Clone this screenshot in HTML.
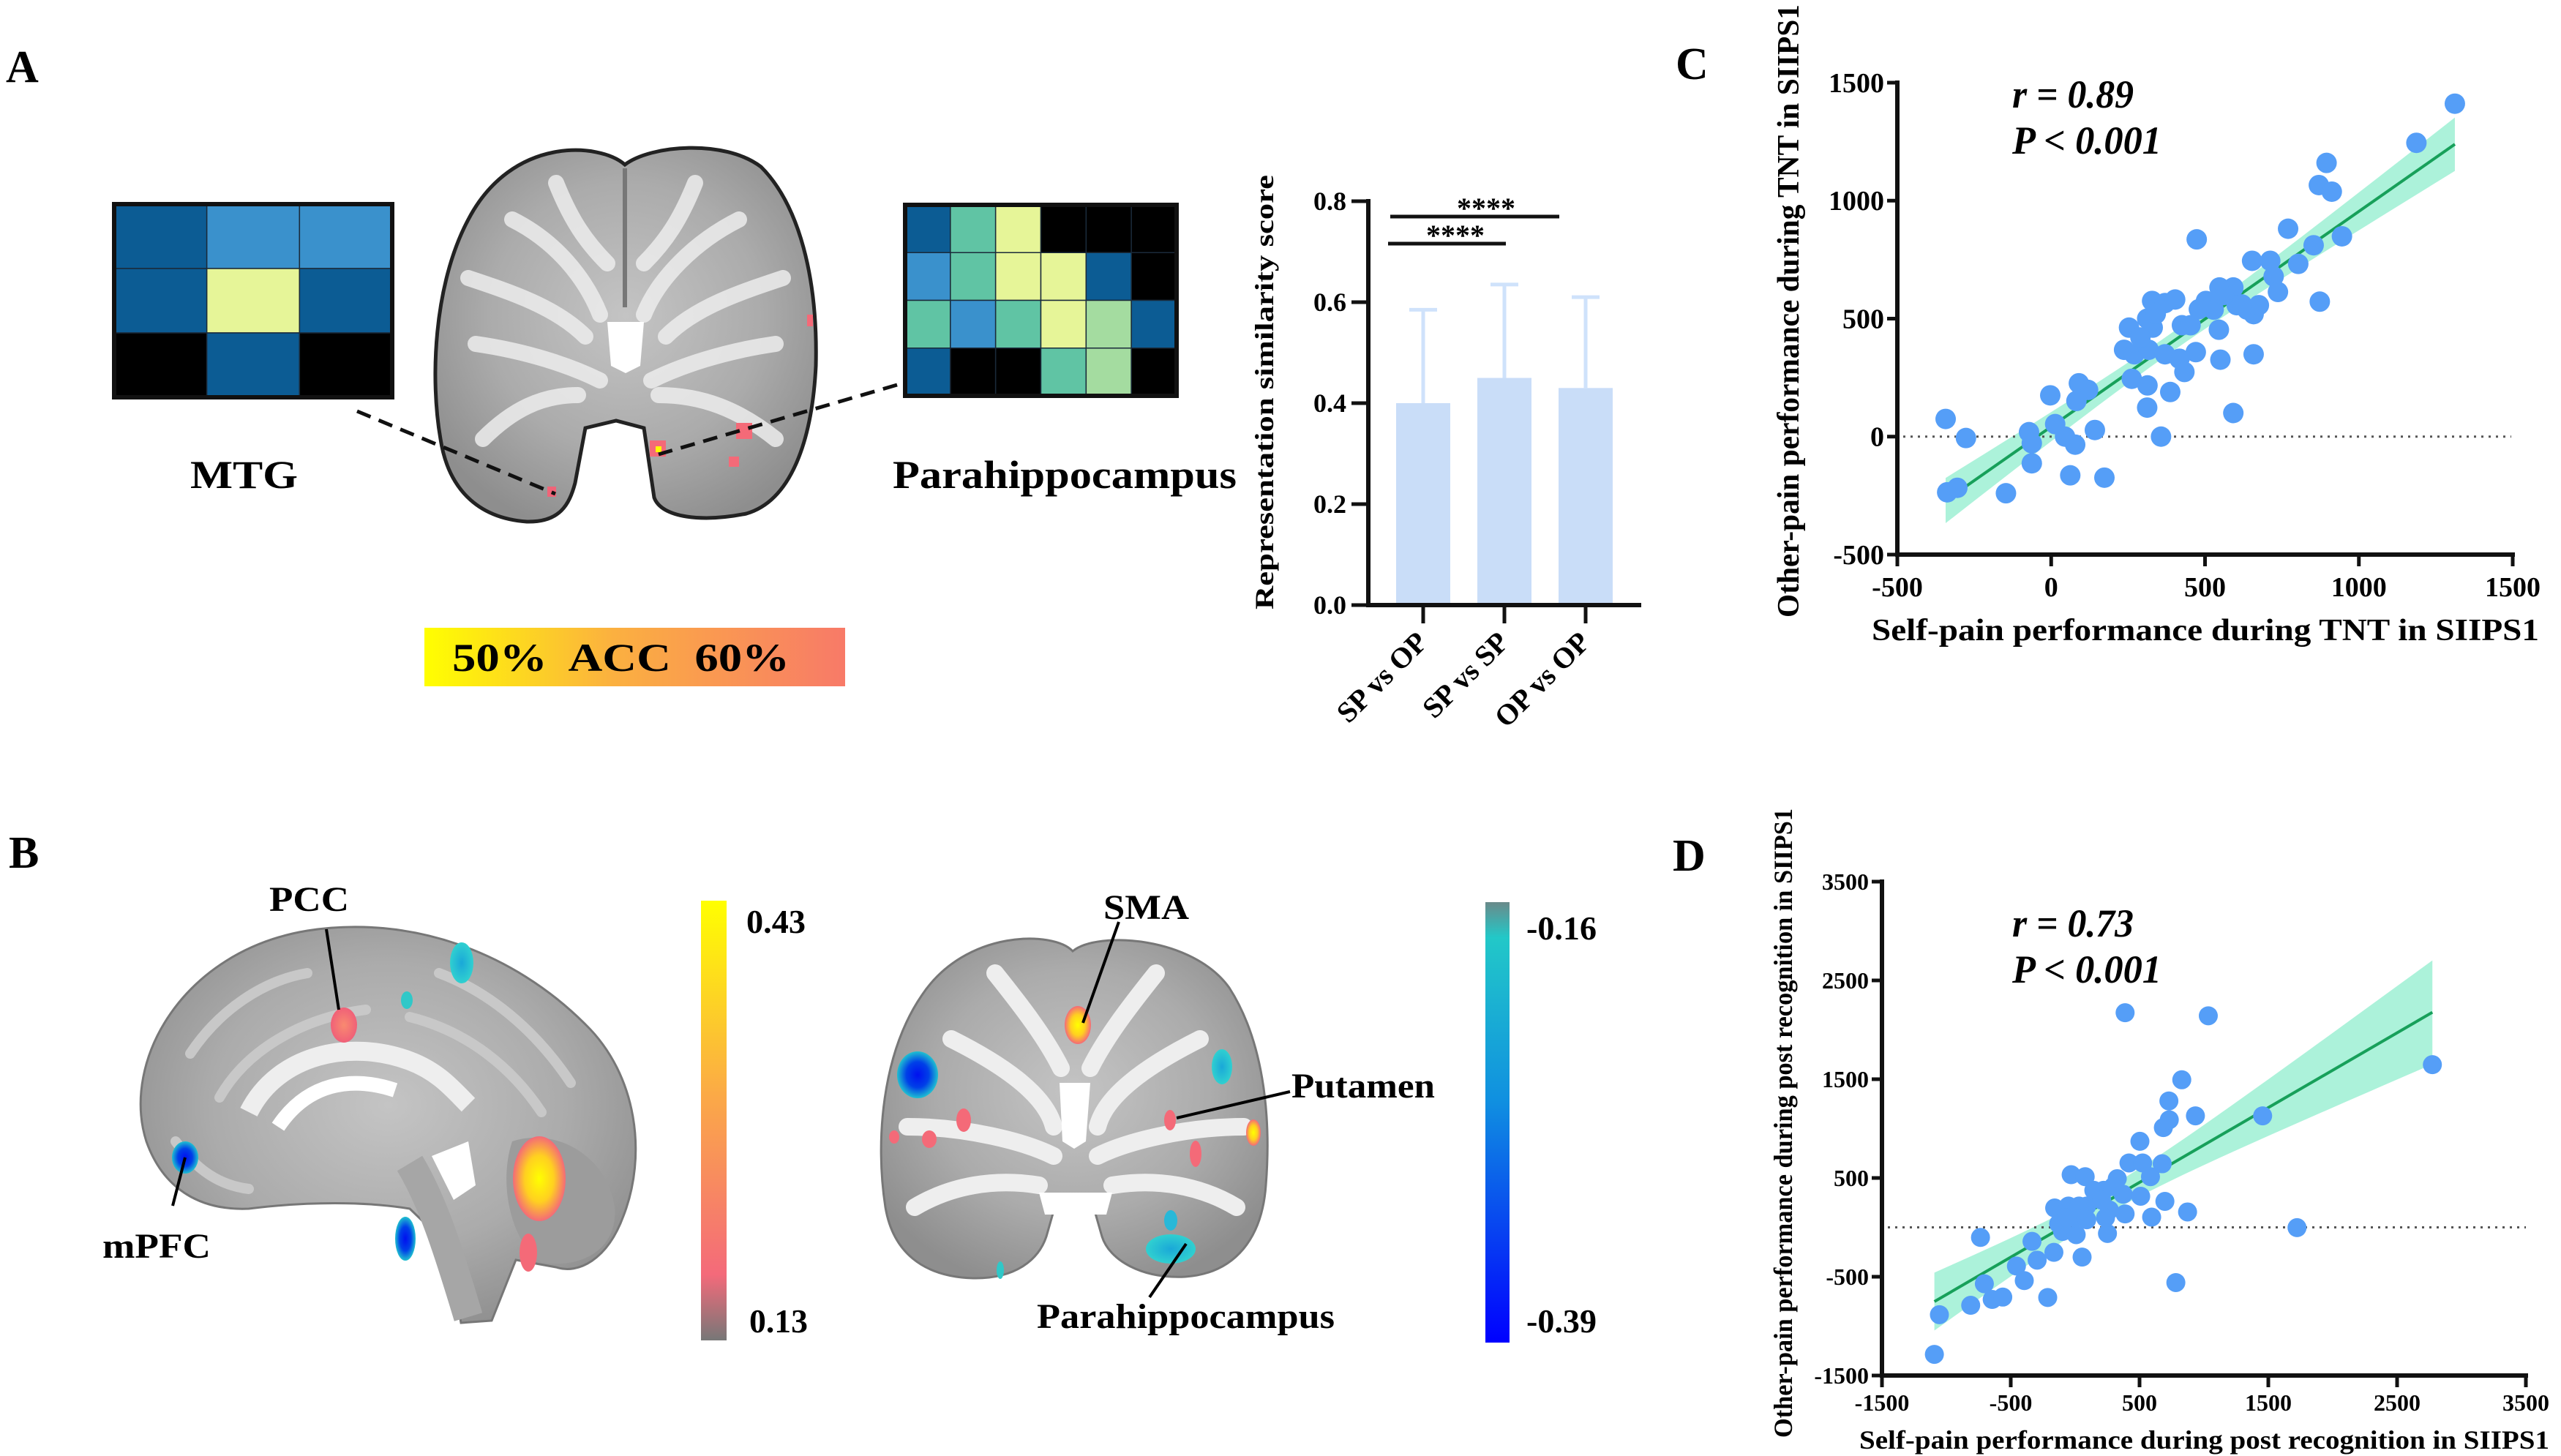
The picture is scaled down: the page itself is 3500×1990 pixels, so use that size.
<!DOCTYPE html>
<html><head><meta charset="utf-8"><title>Figure</title>
<style>
html,body{margin:0;padding:0;background:#fff;}
svg{display:block;}
text{font-family:"Liberation Serif",serif;font-weight:bold;fill:#000;}
</style></head>
<body>
<svg id="fig" width="3500" height="1990" viewBox="0 0 3500 1990" xmlns="http://www.w3.org/2000/svg">
<defs>
<radialGradient id="brainGrad" cx="50%" cy="45%" r="60%">
<stop offset="0" stop-color="#c4c4c4"/><stop offset="0.6" stop-color="#ababab"/><stop offset="1" stop-color="#8e8e8e"/>
</radialGradient>
<linearGradient id="accBar" x1="0" x2="1" y1="0" y2="0">
<stop offset="0" stop-color="#ffff00"/><stop offset="0.45" stop-color="#fbb040"/><stop offset="1" stop-color="#f87a68"/>
</linearGradient>
<linearGradient id="posBar" x1="0" x2="0" y1="0" y2="1">
<stop offset="0" stop-color="#ffff00"/><stop offset="0.45" stop-color="#fba848"/><stop offset="0.85" stop-color="#f46a7a"/><stop offset="1" stop-color="#777"/>
</linearGradient>
<linearGradient id="negBar" x1="0" x2="0" y1="0" y2="1">
<stop offset="0" stop-color="#6a8a8a"/><stop offset="0.08" stop-color="#22c8c8"/><stop offset="0.45" stop-color="#1090e0"/><stop offset="1" stop-color="#0000ff"/>
</linearGradient>
<radialGradient id="hot"><stop offset="0" stop-color="#ffff00"/><stop offset="0.55" stop-color="#ffd020"/><stop offset="1" stop-color="#f46a78"/></radialGradient>
<radialGradient id="pink"><stop offset="0" stop-color="#f98a70"/><stop offset="1" stop-color="#f06078"/></radialGradient>
<radialGradient id="cold"><stop offset="0" stop-color="#0010f0"/><stop offset="0.55" stop-color="#0040e8"/><stop offset="1" stop-color="#20c0d0"/></radialGradient>
<radialGradient id="teal"><stop offset="0" stop-color="#1aa8d8"/><stop offset="1" stop-color="#30d0d0"/></radialGradient>
</defs>

<text x="8" y="112" font-size="62">A</text>
<text x="12" y="1186" font-size="62">B</text>
<text x="2290" y="108" font-size="62">C</text>
<text x="2286" y="1190" font-size="62">D</text>

<g id="mtgMatrix"></g>
<text x="260" y="667" font-size="54" textLength="147" lengthAdjust="spacingAndGlyphs">MTG</text>
<g id="phMatrix"></g>
<text x="1220" y="667" font-size="54" textLength="470" lengthAdjust="spacingAndGlyphs">Parahippocampus</text>

<g>
<path d="M854,225 C820,195 700,185 640,300 C592,390 588,520 602,600 C612,665 650,708 720,713 C765,714 778,690 786,660 L800,585 L842,575 L880,585 L894,680 C904,708 960,714 1020,702 C1082,684 1110,600 1115,500 C1118,380 1092,280 1040,228 C990,190 890,198 854,225 Z" fill="url(#brainGrad)" stroke="#222" stroke-width="5"/>
<path d="M700,300 C760,330 800,380 820,430 M1010,300 C950,330 900,380 880,430 M650,470 C720,480 780,500 820,520 M1060,470 C990,480 930,500 890,520 M640,380 C700,400 760,420 800,460 M1070,380 C1010,400 950,420 910,460 M660,600 C700,560 740,540 790,540 M1060,600 C1010,560 960,540 900,540 M760,250 C780,300 800,330 830,360 M950,250 C930,300 910,330 880,360" stroke="#ececec" stroke-width="22" fill="none" stroke-linecap="round" opacity="0.85"/>
<path d="M854,230 L854,420" stroke="#777" stroke-width="6"/>
<path d="M830,440 L880,440 L875,500 L855,510 L835,500 Z" fill="#fff"/>
<rect x="748" y="665" width="12" height="14" fill="#f06478"/>
<rect x="888" y="602" width="22" height="22" fill="#f46a78"/><rect x="896" y="610" width="8" height="8" fill="#ffff00"/>
<rect x="1006" y="578" width="22" height="22" fill="#f46a78"/>
<rect x="996" y="624" width="14" height="14" fill="#f46a78"/>
<rect x="1103" y="430" width="8" height="16" fill="#f46a78"/>
</g>
<line x1="488" y1="562" x2="759" y2="675" stroke="#111" stroke-width="5" stroke-dasharray="20,12"/>
<line x1="1226" y1="526" x2="900" y2="621" stroke="#111" stroke-width="5" stroke-dasharray="20,12"/>

<rect x="580" y="858" width="575" height="80" fill="url(#accBar)"/>
<text x="618" y="917" font-size="54" textLength="461" lengthAdjust="spacingAndGlyphs" xml:space="preserve">50%  ACC  60%</text>

<g id="barChart"></g>

<g>
<path d="M200,1560 C165,1450 250,1300 420,1272 C560,1250 700,1300 800,1400 C872,1470 884,1580 852,1662 C830,1722 790,1742 760,1732 L705,1722 L672,1805 L630,1808 L612,1702 L560,1652 C500,1642 420,1642 340,1652 C270,1655 222,1622 200,1560 Z" fill="url(#brainGrad)" stroke="#777" stroke-width="3"/>
<path d="M260,1440 C300,1380 360,1340 420,1330 M300,1500 C340,1430 420,1390 500,1380 M600,1330 C680,1360 740,1420 780,1480 M560,1390 C640,1410 700,1460 740,1520 M240,1560 C270,1600 300,1620 340,1625" stroke="#c8c8c8" stroke-width="14" fill="none" stroke-linecap="round"/>
<path d="M340,1520 C380,1440 480,1420 560,1450 C600,1465 620,1490 640,1510" stroke="#eeeeee" stroke-width="26" fill="none"/>
<path d="M380,1540 C420,1480 480,1470 540,1490" stroke="#fff" stroke-width="20" fill="none"/>
<path d="M590,1580 L640,1560 L650,1620 L620,1640 Z" fill="#fff"/>
<path d="M700,1560 C760,1540 830,1580 840,1650 C845,1710 790,1735 740,1725 C700,1700 680,1620 700,1560 Z" fill="#9c9c9c"/>
<path d="M560,1590 C590,1640 610,1700 640,1800" stroke="#a6a6a6" stroke-width="40" fill="none"/>
<ellipse cx="631" cy="1316" rx="16" ry="28" fill="url(#teal)"/>
<ellipse cx="556" cy="1367" rx="8" ry="12" fill="#30c8c8"/>
<ellipse cx="470" cy="1401" rx="18" ry="24" fill="url(#pink)"/>
<ellipse cx="253" cy="1582" rx="18" ry="22" fill="url(#cold)"/>
<ellipse cx="737" cy="1611" rx="36" ry="58" fill="url(#hot)"/>
<ellipse cx="722" cy="1712" rx="12" ry="26" fill="#f46a78"/>
<ellipse cx="554" cy="1693" rx="14" ry="30" fill="url(#cold)"/>
</g>
<rect x="958" y="1231" width="35" height="601" fill="url(#posBar)"/>
<text x="1020" y="1275" font-size="46" textLength="81" lengthAdjust="spacingAndGlyphs">0.43</text>
<text x="1024" y="1821" font-size="46" textLength="80" lengthAdjust="spacingAndGlyphs">0.13</text>

<g>
<path d="M1466,1300 C1440,1272 1320,1270 1260,1360 C1205,1440 1196,1560 1210,1650 C1220,1710 1260,1745 1330,1747 C1390,1748 1420,1720 1430,1690 L1440,1655 L1496,1655 L1506,1690 C1516,1722 1560,1748 1620,1745 C1690,1740 1725,1690 1730,1620 C1738,1520 1725,1420 1680,1350 C1630,1280 1500,1272 1466,1300 Z" fill="url(#brainGrad)" stroke="#777" stroke-width="3"/>
<path d="M1300,1420 C1380,1460 1430,1500 1440,1540 M1640,1420 C1560,1460 1510,1500 1500,1540 M1240,1540 C1320,1540 1400,1560 1440,1580 M1700,1540 C1620,1540 1540,1560 1500,1580 M1360,1330 C1400,1380 1430,1420 1450,1460 M1580,1330 C1540,1380 1510,1420 1490,1460 M1250,1650 C1300,1620 1360,1610 1420,1620 M1690,1650 C1640,1620 1580,1610 1520,1620" stroke="#eeeeee" stroke-width="24" fill="none" stroke-linecap="round"/>
<path d="M1448,1480 L1490,1480 L1484,1560 L1468,1570 L1452,1560 Z" fill="#fff"/>
<path d="M1420,1630 L1520,1630 L1512,1660 L1428,1660 Z" fill="#fff"/>
<ellipse cx="1473" cy="1401" rx="18" ry="26" fill="url(#hot)"/>
<ellipse cx="1254" cy="1469" rx="28" ry="32" fill="url(#cold)"/>
<ellipse cx="1670" cy="1458" rx="14" ry="24" fill="url(#teal)"/>
<ellipse cx="1317" cy="1531" rx="10" ry="16" fill="#f46a78"/>
<ellipse cx="1270" cy="1557" rx="10" ry="12" fill="#f46a78"/>
<ellipse cx="1222" cy="1554" rx="7" ry="9" fill="#f46a78"/>
<ellipse cx="1599" cy="1531" rx="8" ry="14" fill="#f46a78"/>
<ellipse cx="1713" cy="1548" rx="10" ry="18" fill="url(#hot)"/>
<ellipse cx="1634" cy="1577" rx="8" ry="18" fill="#f46a78"/>
<ellipse cx="1600" cy="1707" rx="34" ry="20" fill="url(#teal)"/>
<ellipse cx="1600" cy="1668" rx="9" ry="14" fill="#28b8d8"/>
<ellipse cx="1367" cy="1736" rx="5" ry="12" fill="#30c8c8"/>
</g>
<rect x="2030" y="1233" width="33" height="602" fill="url(#negBar)"/>
<text x="2086" y="1284" font-size="46" textLength="96" lengthAdjust="spacingAndGlyphs">-0.16</text>
<text x="2086" y="1821" font-size="46" textLength="96" lengthAdjust="spacingAndGlyphs">-0.39</text>

<text x="368" y="1245" font-size="48" textLength="109" lengthAdjust="spacingAndGlyphs">PCC</text>
<line x1="446" y1="1270" x2="463" y2="1380" stroke="#000" stroke-width="4"/>
<text x="140" y="1719" font-size="48" textLength="148" lengthAdjust="spacingAndGlyphs">mPFC</text>
<line x1="236" y1="1648" x2="253" y2="1582" stroke="#000" stroke-width="4"/>
<text x="1508" y="1256" font-size="48" textLength="117" lengthAdjust="spacingAndGlyphs">SMA</text>
<line x1="1529" y1="1260" x2="1480" y2="1398" stroke="#000" stroke-width="4"/>
<text x="1765" y="1500" font-size="48" textLength="196" lengthAdjust="spacingAndGlyphs">Putamen</text>
<line x1="1763" y1="1492" x2="1608" y2="1528" stroke="#000" stroke-width="4"/>
<text x="1417" y="1815" font-size="48" textLength="407" lengthAdjust="spacingAndGlyphs">Parahippocampus</text>
<line x1="1571" y1="1773" x2="1621" y2="1700" stroke="#000" stroke-width="4"/>

<g id="scatterC"></g>
<g id="scatterD"></g>
</svg>

<script>
const mtgColors = [
  ["#0c5c94","#3a91cc","#3a91cc"],
  ["#0c5c94","#e6f598","#0c5c94"],
  ["#000000","#0c5c94","#000000"]];
const phColors = [
  ["#0c5c94","#60c4a4","#e6f598","#000000","#000000","#000000"],
  ["#3a91cc","#60c4a4","#e6f598","#e6f598","#0c5c94","#000000"],
  ["#60c4a4","#3a91cc","#60c4a4","#e6f598","#a4dca0","#0c5c94"],
  ["#0c5c94","#000000","#000000","#60c4a4","#a4dca0","#000000"]];

const barCategories = ["SP vs OP","SP vs SP","OP vs OP"];
const barMeans = [0.40, 0.45, 0.43];
const barErrors = [0.185, 0.185, 0.18];
const barTicks = [0.0, 0.2, 0.4, 0.6, 0.8];
const barTickLabels = ["0.0","0.2","0.4","0.6","0.8"];

const cX = [-343,-277,-338,-305,-147,-72,-63,-63,-3,13,45,78,62,90,120,82,142,173,312,357,387,262,313,237,270,253,312,328,370,403,330,317,370,417,433,425,470,453,473,503,528,545,550,547,592,603,637,653,658,675,658,592,712,723,737,770,803,853,873,870,912,895,945,1187,1312,290,340,480,560,620];
const cY = [75,-6,-236,-217,-240,19,-28,-113,175,53,0,-34,-164,226,198,151,28,-174,123,0,189,245,217,368,349,462,500,575,566,581,462,368,349,330,274,472,358,472,836,575,538,453,326,632,632,557,538,745,519,557,349,100,745,679,613,881,732,811,572,1066,1038,1160,849,1245,1411,420,520,540,600,560];
const cXTicks = [-500,0,500,1000,1500];
const cYTicks = [-500,0,500,1000,1500];

const dX = [-1093,-1054,-811,-735,-705,-644,-562,-456,-395,-335,-295,-165,-213,-159,-128,-98,-31,78,54,8,-52,-7,90,175,221,266,236,251,327,373,388,388,418,509,524,503,585,594,676,697,685,731,728,934,873,828,782,1034,1456,1723,2774,30,145,206,297,-67,90];
const dY = [-1286,-884,-789,-102,-571,-730,-706,-392,-539,-142,-332,-253,-710,196,37,-42,533,513,-301,-74,216,97,216,295,375,176,97,-62,493,335,136,2173,652,315,652,871,513,104,644,263,1010,1089,1280,1129,156,1494,-559,2142,1129,-3,1647,216,375,275,414,97,77];
const dXTicks = [-1500,-500,500,1500,2500,3500];
const dYTicks = [-1500,-500,500,1500,2500,3500];

const NS = "http://www.w3.org/2000/svg";
function mk(parent, tag, attrs, txt){
  const e = document.createElementNS(NS, tag);
  for (const k in attrs) e.setAttribute(k, attrs[k]);
  if (txt !== undefined) e.textContent = txt;
  parent.appendChild(e);
  return e;
}

function drawMatrix(gid, colors, x0, y0, w, h){
  const g = document.getElementById(gid);
  const rows = colors.length, cols = colors[0].length;
  const cw = w/cols, ch = h/rows;
  colors.forEach((row, r) => row.forEach((c, k) => {
    const cell = mk(g, "rect", {x: x0 + k*cw, y: y0 + r*ch, width: cw, height: ch, fill: c, stroke: "#1a2a3a", "stroke-width": 1.5});
    
    
  }));
  const b = mk(g, "rect", {x: x0, y: y0, width: w, height: h, fill: "none", stroke: "#111", "stroke-width": 6});
  
  
}
drawMatrix("mtgMatrix", mtgColors, 156, 279, 380, 264);
drawMatrix("phMatrix", phColors, 1237, 280, 371, 261);

(function(){
  const g = document.getElementById("barChart");
  const ax = 1870, y0 = 827, y1 = 275, vmax = 0.8;
  const yS = v => y0 - v/vmax*(y0 - y1);
  const centers = [1945, 2056, 2167], bw = 74;
  barMeans.forEach((m, i) => {
    const cx = centers[i];
    const eb = mk(g, "line", {x1: cx, x2: cx, y1: yS(m), y2: yS(m + barErrors[i]), stroke: "#cfe2fb", "stroke-width": 5});
    
    
    const cap = mk(g, "line", {x1: cx - 19, x2: cx + 19, y1: yS(m + barErrors[i]), y2: yS(m + barErrors[i]), stroke: "#cfe2fb", "stroke-width": 5});
    
    
    const r = mk(g, "rect", {x: cx - bw/2, y: yS(m), width: bw, height: y0 - yS(m), fill: "#c9ddf8"});
    
    
    const t = mk(g, "line", {x1: cx, x2: cx, y1: y0, y2: 852, stroke: "#111", "stroke-width": 5});
    
    
    const lab = mk(g, "text", {x: 0, y: 0, "font-size": 40, "text-anchor": "end", transform: `translate(${cx + 8},${880}) rotate(-45)`}, barCategories[i]);
    
    
  });
  const yl = mk(g, "line", {x1: ax, x2: ax, y1: y1 - 3, y2: y0 + 3, stroke: "#111", "stroke-width": 6});
  
  
  const xl = mk(g, "line", {x1: ax - 3, x2: 2243, y1: y0, y2: y0, stroke: "#111", "stroke-width": 6});
  
  
  barTicks.forEach((v, i) => {
    const tk = mk(g, "line", {x1: ax - 23, x2: ax, y1: yS(v), y2: yS(v), stroke: "#111", "stroke-width": 5});
    
    
    const tl = mk(g, "text", {x: 1840, y: yS(v) + 12, "font-size": 36, "text-anchor": "end"}, barTickLabels[i]);
    
    
  });
  const yt = mk(g, "text", {x: 0, y: 0, "font-size": 36, "text-anchor": "middle", "font-weight": "normal", textLength: 594, lengthAdjust: "spacingAndGlyphs", transform: "translate(1740,536) rotate(-90)"}, "Representation similarity score");
  
  
  const s1 = mk(g, "line", {x1: 1897, x2: 2058, y1: 333, y2: 333, stroke: "#111", "stroke-width": 5});
  
  
  const st1 = mk(g, "text", {x: 1989, y: 335, "font-size": 40, "text-anchor": "middle", fill: "#444", "font-weight": "normal"}, "****");
  
  
  const s2 = mk(g, "line", {x1: 1900, x2: 2131, y1: 296, y2: 296, stroke: "#111", "stroke-width": 5});
  
  
  const st2 = mk(g, "text", {x: 2031, y: 298, "font-size": 40, "text-anchor": "middle", fill: "#444", "font-weight": "normal"}, "****");
  
  
})();

function scatter(opts){
  const g = document.getElementById(opts.id);
  const {xs, ys, px0, px1, py0, py1, vx0, vx1, vy0, vy1} = opts;
  const X = v => px0 + (v - vx0)/(vx1 - vx0)*(px1 - px0);
  const Y = v => py0 - (v - vy0)/(vy1 - vy0)*(py0 - py1);
  const n = xs.length;
  const mx = xs.reduce((a,b)=>a+b,0)/n, my = ys.reduce((a,b)=>a+b,0)/n;
  let sxx = 0, sxy = 0;
  for (let i=0;i<n;i++){ sxx += (xs[i]-mx)**2; sxy += (xs[i]-mx)*(ys[i]-my); }
  const b = sxy/sxx, a = my - b*mx;
  let sse = 0; for (let i=0;i<n;i++) sse += (ys[i] - a - b*xs[i])**2;
  const se = Math.sqrt(sse/(n-2));
  const xmin = Math.min(...xs), xmax = Math.max(...xs);
  const up = [], lo = [];
  for (let k=0;k<=40;k++){
    const x = xmin + (xmax - xmin)*k/40;
    const h = 2.0*se*Math.sqrt(1/n + (x-mx)**2/sxx);
    up.push(X(x)+","+Y(a+b*x+h)); lo.unshift(X(x)+","+Y(a+b*x-h));
  }
  const band = mk(g, "polygon", {points: up.concat(lo).join(" "), fill: "#acf2da"});
  
  
  const zl = mk(g, "line", {x1: X(vx0)+8, x2: opts.zeroEnd, y1: Y(0), y2: Y(0), stroke: "#555", "stroke-width": 3, "stroke-dasharray": "3,7"});
  
  
  const rl = mk(g, "line", {x1: X(xmin), x2: X(xmax), y1: Y(a+b*xmin), y2: Y(a+b*xmax), stroke: "#17a05a", "stroke-width": 4});
  
  
  xs.forEach((x,i) => {
    const c = mk(g, "circle", {cx: X(x), cy: Y(ys[i]), r: opts.r, fill: "#559ef7"});
    
    
  });
  const ya = mk(g, "line", {x1: px0, x2: px0, y1: py1 - 3, y2: py0 + 3, stroke: "#111", "stroke-width": 6});
  
  
  const xa = mk(g, "line", {x1: px0 - 3, x2: px1 + 3, y1: py0, y2: py0, stroke: "#111", "stroke-width": 6});
  
  
  opts.yTicks.forEach(v => {
    const t = mk(g, "line", {x1: px0 - 14, x2: px0, y1: Y(v), y2: Y(v), stroke: "#111", "stroke-width": 5});
    
    
    const l = mk(g, "text", {x: px0 - 18, y: Y(v) + opts.fs*0.34, "font-size": opts.fs, "text-anchor": "end"}, String(v));
    
    
  });
  opts.xTicks.forEach(v => {
    const t = mk(g, "line", {x1: X(v), x2: X(v), y1: py0, y2: py0 + 16, stroke: "#111", "stroke-width": 5});
    
    
    const l = mk(g, "text", {x: X(v), y: opts.xLabY, "font-size": opts.fs, "text-anchor": "middle"}, String(v));
    
    
  });
  const xt = mk(g, "text", {x: opts.xtX, y: opts.xtY, "font-size": opts.tfs, textLength: opts.xtLen, lengthAdjust: "spacingAndGlyphs"}, opts.xTitle);
  
  
  const yt = mk(g, "text", {x: 0, y: 0, "font-size": opts.tfs, "text-anchor": "middle", textLength: opts.ytLen, lengthAdjust: "spacingAndGlyphs", transform: `translate(${opts.ytX},${opts.ytY}) rotate(-90)`}, opts.yTitle);
  
  
  const r1 = mk(g, "text", {x: 2750, y: opts.statY, "font-size": 54, "font-style": "italic", textLength: 166, lengthAdjust: "spacingAndGlyphs"}, opts.rText);
  
  
  const p1 = mk(g, "text", {x: 2750, y: opts.statY + 63, "font-size": 54, "font-style": "italic", textLength: 204, lengthAdjust: "spacingAndGlyphs"}, "P < 0.001");
  
  
}

scatter({id: "scatterC", xs: cX, ys: cY, px0: 2593, px1: 3434, py0: 758, py1: 113,
  vx0: -500, vx1: 1500, vy0: -500, vy1: 1500, r: 14, zeroEnd: 3432,
  xTicks: cXTicks, yTicks: cYTicks, fs: 38, xLabY: 815,
  xTitle: "Self-pain performance during TNT in SIIPS1", xtX: 2558, xtY: 875, xtLen: 912,
  yTitle: "Other-pain performance during TNT in SIIPS1", ytX: 2458, ytY: 425, ytLen: 838, tfs: 42,
  rText: "r = 0.89", statY: 147});

scatter({id: "scatterD", xs: dX, ys: dY, px0: 2572, px1: 3452, py0: 1880, py1: 1205,
  vx0: -1500, vx1: 3500, vy0: -1500, vy1: 3500, r: 13, zeroEnd: 3452,
  xTicks: dXTicks, yTicks: dYTicks, fs: 32, xLabY: 1928,
  xTitle: "Self-pain performance during post recognition in SIIPS1", xtX: 2541, xtY: 1980, xtLen: 943,
  yTitle: "Other-pain performance during post recognition in SIIPS1", ytX: 2449, ytY: 1535, ytLen: 860, tfs: 36,
  rText: "r = 0.73", statY: 1280});
</script>
</body></html>
